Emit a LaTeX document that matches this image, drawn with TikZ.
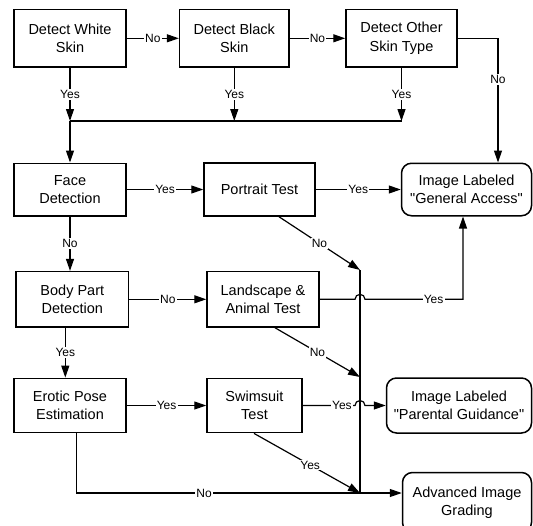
\documentclass[tikz,border=0pt]{standalone}
\usepackage{fontspec}
\setmainfont{Liberation Sans}[Ligatures=TeXOff]
\usetikzlibrary{arrows.meta}
\begin{document}
\begin{tikzpicture}[x=1pt,y=-1pt,
  box/.style={draw, line width=1.5pt, align=center, inner sep=0pt,
    font=\fontsize{14.5}{18.5}\selectfont},
  rbox/.style={box, rounded corners=10pt},
  lbl/.style={fill=white, inner sep=1.2pt, font=\fontsize{12}{13}\selectfont},
  conn/.style={line width=1.2pt},
  arr/.style={conn, -{Triangle[length=12pt,width=8pt]}},
]
\clip (0,0) rectangle (533,525);
% boxes
\node[box, minimum width=112.4pt, minimum height=57.5pt] (ws) at (70,38.3) {Detect White\\Skin};
\node[box, minimum width=109.4pt, minimum height=57.5pt] (bs) at (234.3,38.3) {Detect Black\\Skin};
\node[box, minimum width=111pt, minimum height=57.5pt] (ost) at (401.5,38.3) {Detect Other\\Skin Type};
\node[box, minimum width=112.4pt, minimum height=52.5pt] (fd) at (70,189.5) {Face\\Detection};
\node[box, minimum width=111pt, minimum height=53pt] (pt) at (259.5,189.5) {Portrait Test};
\node[rbox, minimum width=130pt, minimum height=52.5pt] (ga) at (466.5,189.5) {Image Labeled\\"General Access"};
\node[box, minimum width=112.6pt, minimum height=55.4pt] (bpd) at (72.3,299.3) {Body Part\\Detection};
\node[box, minimum width=112pt, minimum height=55.4pt] (lat) at (263,299.3) {Landscape \&\\Animal Test};
\node[box, minimum width=112.4pt, minimum height=54.3pt] (epe) at (70,405.5) {Erotic Pose\\Estimation};
\node[box, minimum width=95pt, minimum height=54.3pt] (st) at (254.5,405.5) {Swimsuit\\Test};
\node[rbox, minimum width=145pt, minimum height=55pt] (pg) at (459,405.5) {Image Labeled\\"Parental Guidance"};
\node[rbox, minimum width=129pt, minimum height=60pt] (aig) at (467,502.5) {Advanced Image\\Grading};
% top row
\draw[arr] (ws) -- node[lbl]{No} (bs);
\draw[arr] (bs) -- node[lbl]{No} (ost);
\coordinate (jy) at (70,121);
\draw[arr] (ws.south) -- node[lbl]{Yes} (ws.south |- jy);
\draw[arr] (bs.south) -- node[lbl]{Yes} (bs.south |- jy);
\draw[arr] (ost.south) -- node[lbl]{Yes} (ost.south |- jy);
\draw[conn] (ws.south |- jy) -- (ost.south |- jy);
\draw[arr] (ws.south |- jy) -- (fd.north);
\draw[arr] (ost.east) -- (498,38.3) -- node[lbl,pos=0.33]{No} (498,38.3 |- ga.north);
% second row
\draw[arr] (fd) -- node[lbl]{Yes} (pt);
\draw[arr] (pt) -- node[lbl]{Yes} (ga);
\draw[arr] (fd.south) -- node[lbl]{No} (fd.south |- bpd.north);
% junction column
\coordinate (j1) at (360,270);
\coordinate (j2) at (360,377);
\coordinate (j3) at (360,493);
\draw[conn] (j1) -- (j3);
\draw[arr] ([xshift=19.5pt]pt.south) -- node[lbl]{No} (j1);
% third row
\draw[arr] (bpd) -- node[lbl]{No} (lat);
\draw[arr] (lat.east) -- (355,299.3) arc[start angle=180,end angle=360,radius=5]
  -- node[lbl,pos=0.7]{Yes} (463,299.3) -- (463,299.3 |- ga.south);
\draw[arr] ([xshift=12pt]lat.south) -- node[lbl]{No} (j2);
\draw[arr] ([xshift=-7pt]bpd.south) -- node[lbl]{Yes} ([xshift=-7pt]bpd.south |- epe.north);
% fourth row
\draw[arr] (epe) -- node[lbl]{Yes} (st);
\draw[arr] (st.east) -- node[lbl,pos=0.75]{Yes} (355,405.5) arc[start angle=180,end angle=360,radius=5] -- (pg.west);
\draw[arr] ([xshift=-0.5pt]st.south) -- node[lbl,pos=0.53]{Yes} (j3);
\draw[conn] ([xshift=6.5pt]epe.south) |- node[lbl,pos=0.725]{No} (j3);
\draw[arr] (j3) -- (aig.west |- j3);
\end{tikzpicture}
\end{document}
